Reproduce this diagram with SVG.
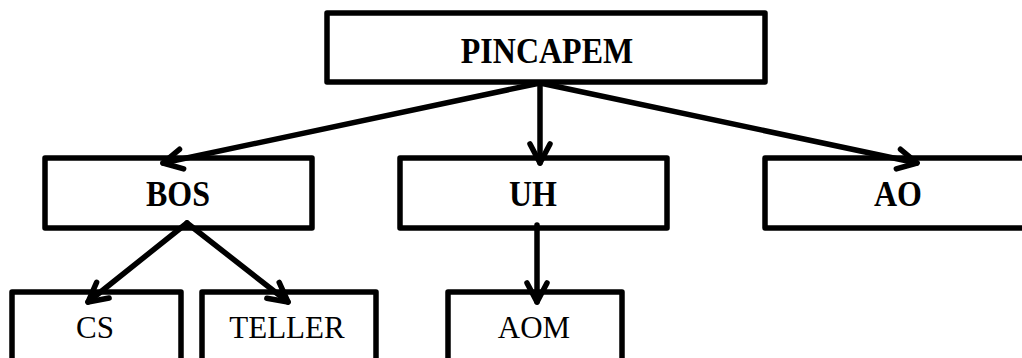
<svg xmlns="http://www.w3.org/2000/svg" width="1022" height="358" viewBox="0 0 1022 358">
<style>
.box{fill:#fff;stroke:#000;stroke-width:5.5;stroke-linejoin:round}
.b{font-family:"Liberation Serif","Times New Roman",serif;font-weight:bold;font-size:32px;text-anchor:middle;fill:#000}
.r{font-family:"Liberation Serif","Times New Roman",serif;font-size:31px;text-anchor:middle;fill:#000}
.con{fill:none;stroke:#000;stroke-width:5.5;stroke-linecap:round}
</style>
<defs>
<marker id="arr" markerUnits="userSpaceOnUse" viewBox="-24 -14 28 28" refX="0" refY="0" markerWidth="28" markerHeight="28" orient="auto" overflow="visible">
<path d="M-19,-10 L0,0 L-19,10" fill="none" stroke="#000" stroke-width="5.5" stroke-linecap="round" stroke-linejoin="round"/>
</marker>
</defs>
<rect width="1022" height="358" fill="#fff"/>
<g id="n-pincapem"><rect class="box" x="327" y="13" width="438" height="69"/><text class="b" transform="translate(547,63) scale(1,1.1)">PINCAPEM</text></g>
<g id="n-bos"><rect class="box" x="45" y="158" width="267" height="70"/><text class="b" transform="translate(178,206) scale(1,1.1)">BOS</text></g>
<g id="n-uh"><rect class="box" x="400" y="158" width="267" height="70"/><text class="b" transform="translate(533,206) scale(1,1.1)">UH</text></g>
<g id="n-ao"><rect class="box" x="765" y="158" width="270" height="70"/><text class="b" transform="translate(898,206) scale(1,1.1)">AO</text></g>
<g id="n-cs"><rect class="box" x="12" y="292" width="169" height="90"/><text class="r" x="95" y="338">CS</text></g>
<g id="n-teller"><rect class="box" x="202" y="292" width="174" height="90"/><text class="r" x="287" y="338">TELLER</text></g>
<g id="n-aom"><rect class="box" x="448" y="292" width="174" height="90"/><text class="r" x="534" y="338">AOM</text></g>
<g id="connectors">
<line class="con" x1="540" y1="83" x2="163" y2="163" marker-end="url(#arr)"/>
<line class="con" x1="540" y1="83" x2="540" y2="163" marker-end="url(#arr)"/>
<line class="con" x1="540" y1="83" x2="917" y2="163" marker-end="url(#arr)"/>
<line class="con" x1="187" y1="223" x2="88" y2="302" marker-end="url(#arr)"/>
<line class="con" x1="187" y1="223" x2="288" y2="302" marker-end="url(#arr)"/>
<line class="con" x1="537" y1="225" x2="537" y2="302" marker-end="url(#arr)"/>
</g>
</svg>
